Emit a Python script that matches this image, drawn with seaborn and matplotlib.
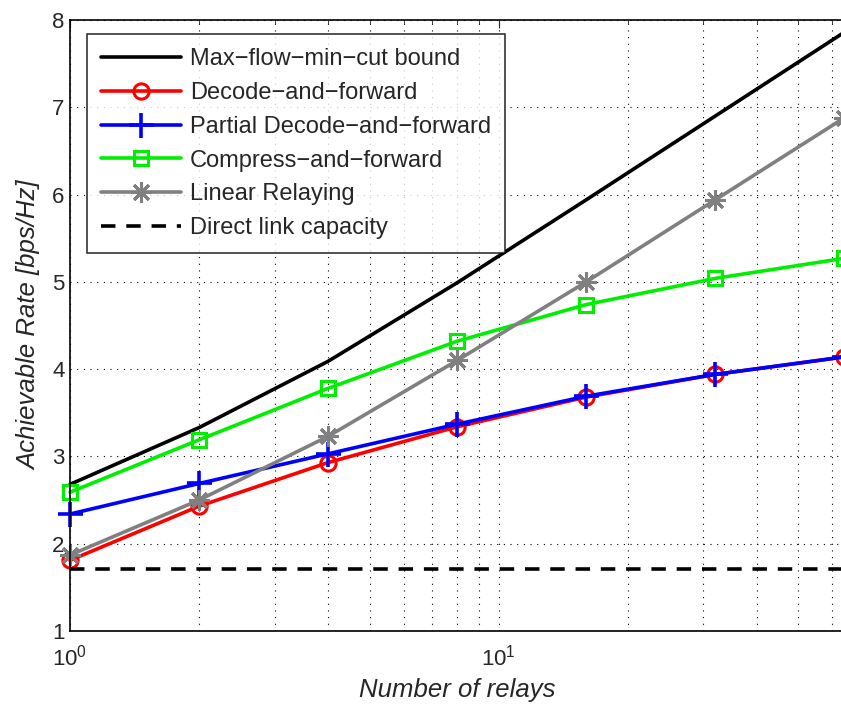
import matplotlib
matplotlib.use("Agg")
import matplotlib.pyplot as plt
import seaborn as sns
import numpy as np
import pandas as pd

relays = [1, 2, 4, 8, 16, 32, 64]
maxflow = [2.68, 3.33, 4.09, 4.99, 5.94, 6.90, 7.86]
decode_fwd = [1.81, 2.43, 2.93, 3.34, 3.68, 3.94, 4.14]
partial_df = [2.34, 2.69, 3.03, 3.37, 3.69, 3.94, 4.14]
compress_fwd = [2.59, 3.19, 3.78, 4.32, 4.74, 5.04, 5.27]
linear_relay = [1.87, 2.50, 3.23, 4.10, 5.00, 5.94, 6.88]
direct_link = 1.71

labels = ["Max\u2212flow\u2212min\u2212cut bound", "Decode\u2212and\u2212forward",
          "Partial Decode\u2212and\u2212forward", "Compress\u2212and\u2212forward",
          "Linear Relaying", "Direct link capacity"]

sns.set_style("white")
plt.rcParams['font.family'] = ['Liberation Sans', 'DejaVu Sans']
plt.rcParams['axes.unicode_minus'] = True

fig = plt.figure(figsize=(8.41, 7.05), dpi=100)
ax = fig.add_axes([70/841, 1 - 631/705, 1.004 - 70/841, (631 - 20)/705])
ax.set_axisbelow(True)

series = [
    (maxflow, labels[0], 'black', None, {}),
    (decode_fwd, labels[1], '#ff0000', 'o', dict(markerfacecolor='none', markeredgecolor='#ff0000', markersize=11, markeredgewidth=2.2)),
    (partial_df, labels[2], '#0000ff', '+', dict(markeredgecolor='#0000ff', markersize=18, markeredgewidth=2.6)),
    (compress_fwd, labels[3], '#00ee00', 's', dict(markerfacecolor='none', markeredgecolor='#00ee00', markersize=10, markeredgewidth=2.2)),
    (linear_relay, labels[4], '#808080', (8, 2, 0), dict(markersize=15, markeredgewidth=2.2, markeredgecolor='#808080')),
]
for vals, lab, col, mk, kw in series:
    df = pd.DataFrame({"relays": relays, "rate": vals})
    sns.lineplot(data=df, x="relays", y="rate", ax=ax, color=col, marker=mk,
                 linewidth=2.6, label=lab, clip_on=False, **kw)

ax.axhline(direct_link, color='black', linestyle=(0, (4, 3)), linewidth=2.6, label=labels[5])

ax.set_xscale('log')
ax.set_xlim(1, 64)
ax.set_ylim(1, 8)
ax.set_yticks([1, 2, 3, 4, 5, 6, 7, 8])
ax.grid(True, which='major', axis='y', linestyle=(0, (1, 5)), color='black', linewidth=0.8)
ax.grid(True, which='both', axis='x', linestyle=(0, (1, 5)), color='black', linewidth=0.8)
ax.tick_params(which='both', direction='in', top=True, right=False, labelsize=16)
ax.tick_params(axis='y', which='major', length=6, pad=4)
ax.tick_params(axis='x', which='major', length=6, pad=10)
ax.tick_params(which='minor', length=3)
for s in ax.spines.values():
    s.set_color('black')
    s.set_linewidth(1.2)
ax.set_xlabel("Number of relays", fontsize=18.5, style='italic', labelpad=5)
ax.set_ylabel("Achievable Rate [bps/Hz]", fontsize=18.5, style='italic', labelpad=8)

leg = ax.legend(loc='upper left', bbox_to_anchor=(0.022, 0.977), fontsize=17, frameon=True,
                fancybox=False, edgecolor='black', handlelength=3.4, labelspacing=0.5,
                borderpad=0.6, handletextpad=0.35, borderaxespad=0)
leg.get_frame().set_linewidth(1.2)

fig.savefig("out.png", dpi=100)
